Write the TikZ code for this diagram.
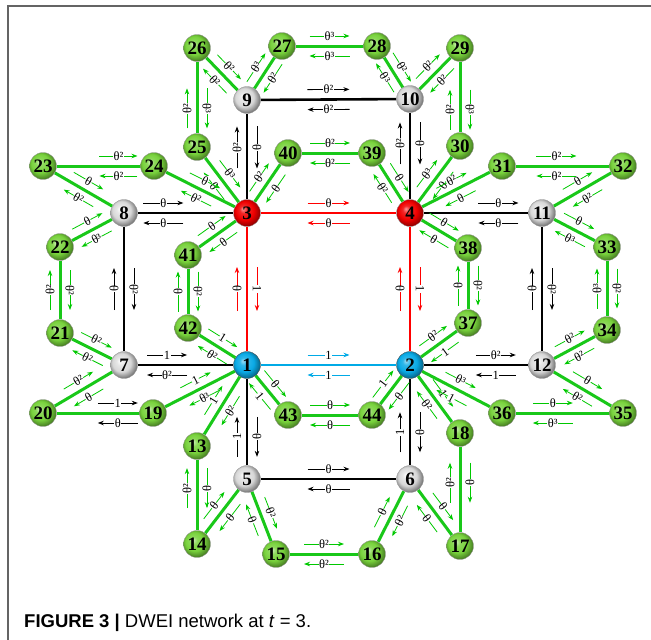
\documentclass[tikz,border=0pt]{standalone}
\usepackage{fontspec}
\setmainfont{Liberation Serif}
\newfontfamily\capfont{Liberation Sans}
\usetikzlibrary{calc,arrows.meta,backgrounds}
\definecolor{eg}{RGB}{25,200,25}
\definecolor{er}{RGB}{255,0,0}
\definecolor{eb}{RGB}{0,170,230}
\definecolor{ag}{RGB}{0,200,0}
\definecolor{ngreen}{RGB}{120,210,60}
\definecolor{ngray}{RGB}{215,215,215}
\definecolor{nred}{RGB}{240,0,0}
\definecolor{nblue}{RGB}{10,170,230}
\definecolor{frame}{RGB}{100,100,100}
\pgfdeclareradialshading{gball}{\pgfqpoint{-8bp}{8bp}}{color(0bp)=(ngreen!35!white); color(7bp)=(ngreen!85!white); color(17bp)=(ngreen); color(27bp)=(ngreen!60!black); color(40bp)=(ngreen!50!black)}
\pgfdeclareradialshading{yball}{\pgfqpoint{-8bp}{8bp}}{color(0bp)=(white); color(7bp)=(ngray!60!white); color(17bp)=(ngray); color(27bp)=(ngray!55!black); color(40bp)=(ngray!45!black)}
\pgfdeclareradialshading{rball}{\pgfqpoint{-8bp}{8bp}}{color(0bp)=(nred!40!white); color(7bp)=(nred!85!white); color(17bp)=(nred); color(27bp)=(nred!60!black); color(40bp)=(nred!50!black)}
\pgfdeclareradialshading{bball}{\pgfqpoint{-8bp}{8bp}}{color(0bp)=(nblue!40!white); color(7bp)=(nblue!85!white); color(17bp)=(nblue); color(27bp)=(nblue!60!black); color(40bp)=(nblue!50!black)}
\tikzset{
  x=1pt, y=1pt,
  nd/.style={circle, minimum size=27pt, inner sep=0pt, draw=black!40, line width=0.3pt,
    font=\fontsize{19}{19}\selectfont\bfseries},
  gn/.style={nd, shade, shading=gball},
  gy/.style={nd, shade, shading=yball},
  rd/.style={nd, shade, shading=rball},
  bl/.style={nd, shade, shading=bball, draw=black!70},
  eG/.style={draw=eg, line width=3pt},
  eK/.style={draw=black, line width=2.6pt},
  eR/.style={draw=er, line width=2pt},
  eB/.style={draw=eb, line width=2.6pt},
  arwst/.style={line width=0.8pt, -{Stealth[length=6pt,width=4.5pt]}},
  lbl/.style={sloped, fill=white, inner sep=0.5pt, text=black, font=\fontsize{12.5}{12.5}\selectfont},
}
% arrow: length, from, to, label, colour, position along from->to
\newcommand\arw[6]{%
  \draw[arwst, #5] let \p1=($(#3)-(#2)$), \n1={atan2(\y1,\x1)}, \n2={#1/2} in
    ($(#2)!#6!(#3)$) ++(\n1+90:10) ++(\n1+180:\n2) -- node[lbl]{#4} ++(\n1:#1);}
% pair of arrows: [length] a, b, label a->b, label b->a, colour, position
\newcommand\Ep[7][34]{\arw{#1}{#2}{#3}{#4}{#6}{#7}\arw{#1}{#3}{#2}{#5}{#6}{1-#7}}
\newcommand\E[6][34]{\Ep[#1]{#2}{#3}{#4}{#5}{#6}{0.5}}
\begin{document}
\begin{tikzpicture}
\useasboundingbox (0,-640) rectangle (651,0);
\draw[frame, line width=1.3pt] (8,-640) -- (8,-6) -- (651,-6);
% nodes
\node[bl] (n1) at (247,-365) {1};
\node[bl] (n2) at (410,-365) {2};
\node[rd] (n3) at (247,-213) {3};
\node[rd] (n4) at (410,-213) {4};
\node[gy] (n5) at (247,-479) {5};
\node[gy] (n6) at (410,-479) {6};
\node[gy] (n7) at (124,-365) {7};
\node[gy] (n8) at (124,-213) {8};
\node[gy] (n9) at (247,-100) {9};
\node[gy] (n10) at (410,-99) {10};
\node[gy] (n11) at (542,-213) {11};
\node[gy] (n12) at (542,-365) {12};
\node[gn] (n13) at (197,-446) {13};
\node[gn] (n14) at (197,-544) {14};
\node[gn] (n15) at (276,-554) {15};
\node[gn] (n16) at (372,-554) {16};
\node[gn] (n17) at (460,-546) {17};
\node[gn] (n18) at (460,-433) {18};
\node[gn] (n19) at (153,-413) {19};
\node[gn] (n20) at (43,-413) {20};
\node[gn] (n21) at (60,-333) {21};
\node[gn] (n22) at (60,-247) {22};
\node[gn] (n23) at (43,-166) {23};
\node[gn] (n24) at (154,-166) {24};
\node[gn] (n25) at (197,-147) {25};
\node[gn] (n26) at (197,-48) {26};
\node[gn] (n27) at (282,-46) {27};
\node[gn] (n28) at (377,-46) {28};
\node[gn] (n29) at (460,-48) {29};
\node[gn] (n30) at (460,-146) {30};
\node[gn] (n31) at (502,-166) {31};
\node[gn] (n32) at (623,-166) {32};
\node[gn] (n33) at (607,-247) {33};
\node[gn] (n34) at (607,-330) {34};
\node[gn] (n35) at (623,-413) {35};
\node[gn] (n36) at (502,-413) {36};
\node[gn] (n37) at (468,-323) {37};
\node[gn] (n38) at (468,-248) {38};
\node[gn] (n39) at (372,-153) {39};
\node[gn] (n40) at (288,-153) {40};
\node[gn] (n41) at (188,-255) {41};
\node[gn] (n42) at (188,-328) {42};
\node[gn] (n43) at (288,-415) {43};
\node[gn] (n44) at (372,-415) {44};
\node[anchor=base west, inner sep=0pt, font=\capfont\fontsize{18.5}{18.5}\selectfont] (cap) at (24,-627)
  {\textbf{FIGURE 3 |} DWEI network at \textit{t} = 3.};
\begin{pgfonlayer}{background}
% edges
\foreach \a/\b in {3/8,8/7,7/1,3/9,9/10,10/4,4/11,11/12,12/2,2/6,6/5,5/1}
  \draw[eK] (n\a) -- (n\b);
\foreach \a/\b in {3/4,3/1,4/2}
  \draw[eR] (n\a) -- (n\b);
\draw[eB] (n1) -- (n2);
\foreach \a/\b in {8/23,8/22,22/21,21/7,7/20,20/19,19/1,3/24,24/23,3/25,25/26,26/9,9/27,27/28,28/10,
  10/29,29/30,30/4,4/31,31/32,32/11,11/33,33/34,34/12,12/35,35/36,36/2,3/40,40/39,39/4,4/38,38/37,37/2,
  2/44,44/43,43/1,1/42,42/41,41/3,1/13,13/14,14/5,5/15,15/16,16/6,6/17,17/18,18/2}
  \draw[eG] (n\a) -- (n\b);
% red / blue arrows
\E[42]{n3}{n4}{θ}{θ}{er}
\E[44]{n3}{n1}{1}{θ}{er}
\E[44]{n4}{n2}{1}{θ}{er}
\E[42]{n1}{n2}{1}{1}{eb}
% black arrows
\Ep[40]{n8}{n3}{θ}{θ}{black}{0.32}
\E[42]{n8}{n7}{θ²}{θ}{black}
\Ep[40]{n7}{n1}{1}{θ²}{black}{0.35}
\Ep[42]{n3}{n9}{θ²}{θ}{black}{0.58}
\E[42]{n9}{n10}{θ²}{θ²}{black}
\Ep[42]{n4}{n10}{θ²}{θ}{black}{0.61}
\Ep[40]{n4}{n11}{θ}{θ}{black}{0.67}
\E[42]{n11}{n12}{θ²}{θ}{black}
\Ep[40]{n2}{n12}{θ²}{1}{black}{0.65}
\Ep[40]{n2}{n6}{θ}{1}{black}{0.59}
\E[42]{n5}{n6}{θ}{θ}{black}
\Ep[40]{n1}{n5}{θ}{1}{black}{0.63}
% green arrows
\E{n26}{n9}{θ²}{θ²}{ag}
\Ep[40]{n25}{n26}{θ²}{θ³}{ag}{0.39}
\E{n9}{n27}{θ³}{θ²}{ag}
\E[40]{n27}{n28}{θ³}{θ³}{ag}
\E{n28}{n10}{θ²}{θ³}{ag}
\E{n10}{n29}{θ²}{θ²}{ag}
\Ep[40]{n30}{n29}{θ²}{θ³}{ag}{0.37}
\E{n4}{n30}{θ³}{θ}{ag}
\E{n39}{n4}{θ}{θ²}{ag}
\E[40]{n40}{n39}{θ²}{θ²}{ag}
\E{n3}{n40}{θ²}{θ}{ag}
\E{n25}{n3}{θ³}{θ}{ag}
\E{n24}{n3}{θ}{θ²}{ag}
\Ep[38]{n23}{n24}{θ²}{θ²}{ag}{0.68}
\E{n23}{n8}{θ}{θ²}{ag}
\E{n22}{n8}{θ}{θ³}{ag}
\E[40]{n21}{n22}{θ²}{θ²}{ag}
\E{n21}{n7}{θ²}{θ²}{ag}
\E{n20}{n7}{θ²}{θ}{ag}
\Ep[40]{n20}{n19}{1}{θ}{black}{0.68}
\E{n19}{n1}{1}{θ³}{ag}
\E{n41}{n3}{θ}{θ}{ag}
\E[40]{n42}{n41}{θ}{θ²}{ag}
\E{n42}{n1}{1}{θ²}{ag}
\E{n1}{n43}{θ}{1}{ag}
\E[40]{n43}{n44}{θ}{θ}{ag}
\E{n13}{n1}{1}{θ²}{ag}
\E{n2}{n37}{θ²}{1}{ag}
\E{n44}{n2}{1}{θ}{ag}
\E{n2}{n18}{1}{θ²}{ag}
\E{n2}{n36}{θ³}{1}{ag}
\E{n4}{n38}{θ}{θ}{ag}
\E[40]{n37}{n38}{θ}{θ²}{ag}
\E{n11}{n33}{θ}{θ³}{ag}
\E[40]{n34}{n33}{θ³}{θ²}{ag}
\E{n12}{n34}{θ²}{θ²}{ag}
\E{n12}{n35}{θ}{θ²}{ag}
\Ep[40]{n36}{n35}{θ}{θ³}{ag}{0.42}
\E{n11}{n32}{θ}{θ²}{ag}
\Ep[40]{n31}{n32}{θ²}{θ²}{ag}{0.45}
\E{n4}{n31}{θ²}{θ}{ag}
\Ep[40]{n14}{n13}{θ²}{θ}{ag}{0.57}
\E{n14}{n5}{θ}{θ}{ag}
\E{n5}{n15}{θ²}{θ}{ag}
\E[40]{n15}{n16}{θ²}{θ²}{ag}
\E{n16}{n6}{θ}{θ²}{ag}
\E{n6}{n17}{θ}{θ}{ag}
\Ep[40]{n17}{n18}{θ²}{θ}{ag}{0.56}
\end{pgfonlayer}
\end{tikzpicture}
\end{document}
